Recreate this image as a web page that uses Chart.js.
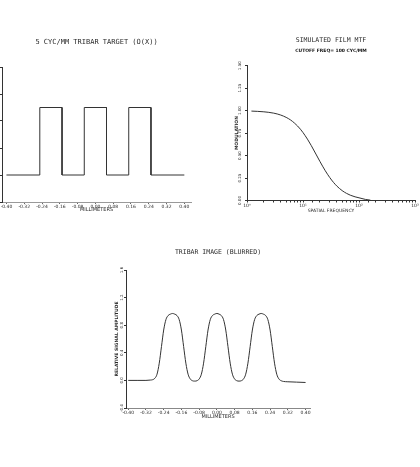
<!DOCTYPE html>
<html>
<head>
<meta charset="utf-8">
<title>Tribar</title>
<script src="https://cdn.jsdelivr.net/npm/chart.js@4.4.0/dist/chart.umd.min.js"></script>
<style>
    body { margin: 0; width: 420px; height: 467px; overflow: hidden; background: #fff; position: relative; }
    canvas { position: absolute; }
    #grafico1 { left: -40px; top: 0; }
    #grafico2 { left: 215px; top: 0; }
    #grafico3 { left: 90px; top: 220px; }
</style>
</head>
<body>
<canvas id="grafico1" width="266" height="220"></canvas>
<canvas id="grafico2" width="240" height="220"></canvas>
<canvas id="grafico3" width="258" height="210"></canvas>
<script>
// Alvo tribar 5 cyc/mm (mm, amplitude)
const alvoX = [-0.40, -0.25, -0.25, -0.15, -0.15, -0.05, -0.05, 0.05, 0.05, 0.15, 0.15, 0.25, 0.25, 0.40];
const alvoY = [0, 0, 1, 1, 0, 0, 1, 1, 0, 0, 1, 1, 0, 0];

// MTF do filme (cyc/mm, modulacao)
const freqMtf = [1.2, 2, 3, 4, 5, 6, 7, 8, 9, 10, 12, 14, 17, 20, 25, 30, 35, 40, 50, 60, 70, 85, 100, 130, 160];
const valorMtf = [0.995, 0.987, 0.972, 0.951, 0.925, 0.896, 0.863, 0.829, 0.793, 0.756, 0.683, 0.613, 0.517, 0.436,
    0.331, 0.256, 0.202, 0.162, 0.110, 0.079, 0.059, 0.041, 0.030, 0.012, 0.004];

// Imagem borrada (mm, amplitude relativa)
const imagemX = [-0.40, -0.36, -0.32, -0.30, -0.29, -0.28, -0.27, -0.26, -0.25, -0.24, -0.23, -0.22, -0.21, -0.20,
    -0.19, -0.18, -0.17, -0.16, -0.15, -0.14, -0.13, -0.12, -0.11, -0.10, -0.09, -0.08, -0.07, -0.06, -0.05,
    -0.04, -0.03, -0.02, -0.01, 0.00, 0.01, 0.02, 0.03, 0.04, 0.05, 0.06, 0.07, 0.08, 0.09, 0.10, 0.11, 0.12,
    0.13, 0.14, 0.15, 0.16, 0.17, 0.18, 0.19, 0.20, 0.21, 0.22, 0.23, 0.24, 0.25, 0.26, 0.27, 0.28, 0.29,
    0.30, 0.32, 0.36, 0.40];
const imagemY = [0.00, 0.00, 0.00, 0.005, 0.01, 0.03, 0.09, 0.25, 0.49, 0.73, 0.88, 0.94, 0.96, 0.97,
    0.96, 0.94, 0.88, 0.73, 0.49, 0.25, 0.09, 0.02, -0.005, -0.01, -0.005, 0.02, 0.09, 0.25, 0.49,
    0.73, 0.88, 0.94, 0.96, 0.97, 0.96, 0.94, 0.88, 0.73, 0.49, 0.25, 0.09, 0.02, -0.005, -0.01, -0.005, 0.02,
    0.09, 0.25, 0.49, 0.73, 0.88, 0.94, 0.96, 0.97, 0.96, 0.94, 0.88, 0.73, 0.49, 0.25, 0.09, 0.02, -0.005,
    -0.015, -0.02, -0.025, -0.03];

// Rotulos dos eixos
const rotulosMm = [-0.40, -0.32, -0.24, -0.16, -0.08, 0.00, 0.08, 0.16, 0.24, 0.32, 0.40];
const rotulosAmp = [-0.4, 0.0, 0.4, 0.8, 1.2, 1.6];
const rotulosMod = [0, 0.25, 0.5, 0.75, 1.0, 1.25, 1.5];
const decadas = [1, 10, 100, 1000];
const potencias = ['10\u2070', '10\u00b9', '10\u00b2', '10\u00b3'];

const corTexto = '#2a2a2a';
const corLinha = '#333';
const mono = 'DejaVu Sans Mono';
const sans = 'DejaVu Sans';

// rotulos do eixo y escritos na vertical, como no original
const rotulosVerticais = {
    id: 'rotulosVerticais',
    afterDraw(chart, args, opts) {
        const esc = chart.scales.y;
        const ctx = chart.ctx;
        ctx.save();
        ctx.font = opts.tamanho + 'px ' + sans;
        ctx.fillStyle = corTexto;
        ctx.textAlign = 'center';
        ctx.textBaseline = 'middle';
        esc.ticks.forEach(t => {
            ctx.save();
            ctx.translate(chart.chartArea.left - opts.distancia, esc.getPixelForValue(t.value));
            ctx.rotate(-Math.PI / 2);
            ctx.fillText(Number(t.value).toFixed(opts.casas), 0, 0);
            ctx.restore();
        });
        ctx.restore();
    }
};

function pares(xs, ys) {
    return xs.map((x, i) => ({x: x, y: ys[i]}));
}

function eixoY(min, max, rotulos, largura, titulo, padTitulo) {
    return {
        type: 'linear',
        min: min,
        max: max,
        afterBuildTicks: s => { s.ticks = rotulos.map(v => ({value: v})); },
        afterFit: s => { s.width = largura; },
        ticks: {display: false},
        grid: {drawOnChartArea: false, tickLength: 2, color: corLinha},
        border: {color: corLinha, width: 1},
        title: {
            display: !!titulo,
            text: titulo,
            color: corTexto,
            font: {family: sans, size: 4.5, weight: 'bold'},
            padding: {top: padTitulo, bottom: 0}
        }
    };
}

function eixoMm(min, max, altura, padTitulo, corEixo) {
    return {
        type: 'linear',
        min: min,
        max: max,
        afterBuildTicks: s => { s.ticks = rotulosMm.map(v => ({value: v})); },
        afterFit: s => { s.height = altura; },
        ticks: {
            autoSkip: false, maxRotation: 0, padding: 0, color: corTexto,
            font: {family: sans, size: 4.5},
            callback: v => Number(v).toFixed(2)
        },
        grid: {drawOnChartArea: false, tickLength: 2, color: '#666'},
        border: {color: corEixo, width: 1},
        title: {
            display: true,
            text: 'MILLIMETERS',
            color: corTexto,
            font: {family: sans, size: 5},
            padding: {top: 0, bottom: padTitulo}
        }
    };
}

function montarGrafico1() {
    const graf1 = document.getElementById('grafico1').getContext('2d');
    new Chart(graf1, {
        type: 'line',
        data: {
            datasets: [{
                data: pares(alvoX, alvoY),
                borderColor: corLinha,
                borderWidth: 1,
                pointRadius: 0,
                tension: 0
            }]
        },
        options: {
            responsive: false,
            animation: false,
            layout: {padding: {left: 0, top: 0, right: 35, bottom: 0}},
            scales: {
                x: eixoMm(-0.42, 0.43, 18, 7, '#999'),
                y: eixoY(-0.4, 1.6, rotulosAmp, 42, '', 0)
            },
            plugins: {
                legend: {display: false},
                tooltip: {enabled: false},
                title: {
                    display: true,
                    fullSize: false, // centraliza sobre a area do grafico
                    text: '5 CYC/MM TRIBAR TARGET (O(X))',
                    color: corTexto,
                    font: {family: mono, size: 7, weight: 'normal'},
                    padding: {top: 37.8, bottom: 20.8}
                },
                rotulosVerticais: {distancia: 6, casas: 1, tamanho: 4}
            }
        },
        plugins: [rotulosVerticais]
    });
}

function montarGrafico2() {
    const graf2 = document.getElementById('grafico2').getContext('2d');
    new Chart(graf2, {
        type: 'line',
        data: {
            datasets: [{
                data: pares(freqMtf, valorMtf),
                borderColor: corLinha,
                borderWidth: 1,
                pointRadius: 0,
                cubicInterpolationMode: 'monotone'
            }]
        },
        options: {
            responsive: false,
            animation: false,
            layout: {padding: {left: 0, top: 0, right: 40, bottom: 0}},
            scales: {
                x: {
                    type: 'logarithmic',
                    min: 1,
                    max: 1000,
                    afterFit: s => { s.height = 19.5; },
                    ticks: {
                        autoSkip: false, maxRotation: 0, padding: 0.5, color: corTexto,
                        font: {family: sans, size: 4.5},
                        callback: v => {
                            const i = decadas.findIndex(d => Math.abs(d - v) < 1e-6);
                            return i >= 0 ? potencias[i] : '';
                        }
                    },
                    grid: {drawOnChartArea: false, tickLength: 2, color: corLinha},
                    border: {color: corLinha, width: 1},
                    title: {
                        display: true,
                        text: 'SPATIAL FREQUENCY',
                        color: corTexto,
                        font: {family: sans, size: 4.5},
                        padding: {top: 0, bottom: 6.3}
                    }
                },
                y: eixoY(0, 1.5, rotulosMod, 32, 'MODULATION', 19)
            },
            plugins: {
                legend: {display: false},
                tooltip: {enabled: false},
                title: {
                    display: true,
                    fullSize: false,
                    text: 'SIMULATED FILM MTF',
                    color: corTexto,
                    font: {family: mono, size: 6.5, weight: 'normal'},
                    padding: {top: 36.8, bottom: 3.4}
                },
                subtitle: {
                    display: true,
                    fullSize: false,
                    text: 'CUTOFF FREQ= 100 CYC/MM',
                    color: '#111',
                    font: {family: sans, size: 4.5, weight: 'bold'},
                    padding: {top: 0, bottom: 12.3}
                },
                rotulosVerticais: {distancia: 7, casas: 2, tamanho: 4}
            }
        },
        plugins: [rotulosVerticais]
    });
}

function montarGrafico3() {
    const graf3 = document.getElementById('grafico3').getContext('2d');
    new Chart(graf3, {
        type: 'line',
        data: {
            datasets: [{
                data: pares(imagemX, imagemY),
                borderColor: corLinha,
                borderWidth: 1,
                pointRadius: 0,
                cubicInterpolationMode: 'monotone'
            }]
        },
        options: {
            responsive: false,
            animation: false,
            layout: {padding: {left: 0, top: 0, right: 38, bottom: 0}},
            scales: {
                x: eixoMm(-0.41, 0.42, 22, 10.3, '#888'),
                y: eixoY(-0.4, 1.6, rotulosAmp, 36, 'RELATIVE SIGNAL AMPLITUDE', 24.6)
            },
            plugins: {
                legend: {display: false},
                tooltip: {enabled: false},
                title: {
                    display: true,
                    fullSize: false,
                    text: 'TRIBAR IMAGE (BLURRED)',
                    color: corTexto,
                    font: {family: mono, size: 6.5, weight: 'normal'},
                    padding: {top: 28.4, bottom: 13.8}
                },
                rotulosVerticais: {distancia: 4.3, casas: 1, tamanho: 4}
            }
        },
        plugins: [rotulosVerticais]
    });
}

montarGrafico1();
montarGrafico2();
montarGrafico3();
</script>
</body>
</html>
